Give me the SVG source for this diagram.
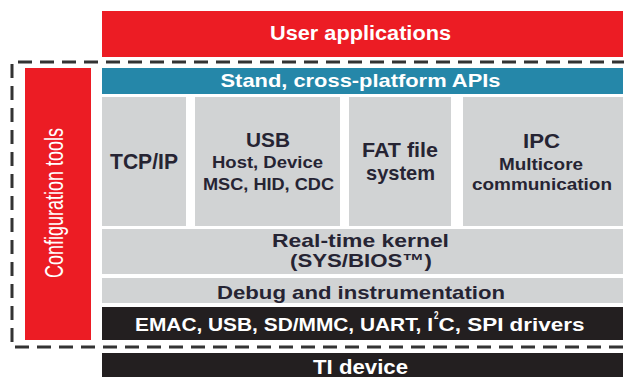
<svg xmlns="http://www.w3.org/2000/svg" width="624" height="377" viewBox="0 0 624 377">
<style>
.red{fill:#ec1c24}
.blue{fill:#2587a9}
.gray{fill:#d1d3d4}
.blk{fill:#231f20}
text{font-family:"Liberation Sans",Arial,sans-serif;font-weight:bold;text-anchor:middle}
.st{text-anchor:start}
.w{fill:#ffffff}
.d{fill:#262433}
.l{font-size:21px}
.m{font-size:19px}
.s{font-size:17px}
</style>
<rect width="624" height="377" fill="#ffffff"/>
<g id="connectors">
<path d="M 626 62 H 12 V 347 H 626" fill="none" stroke="#333333" stroke-width="3" stroke-dasharray="14 8"/>
</g>
<g id="user-applications">
<rect class="red" x="102" y="11" width="521" height="46"/>
<text class="w" x="360.5" y="40" font-size="20" textLength="181" lengthAdjust="spacingAndGlyphs">User applications</text>
</g>
<g id="configuration-tools">
<rect class="red" x="25" y="68" width="66" height="272"/>
<text class="w" transform="translate(63,203) rotate(-90)" font-size="25" style="font-weight:normal" textLength="150" lengthAdjust="spacingAndGlyphs">Configuration tools</text>
</g>
<g id="apis">
<rect class="blue" x="102" y="68" width="521" height="26"/>
<text class="w m" x="360.5" y="87" textLength="280" lengthAdjust="spacingAndGlyphs">Stand, cross-platform APIs</text>
</g>
<g id="tcpip">
<rect class="gray" x="102" y="97" width="84" height="129"/>
<text class="d" x="144" y="169" font-size="22" textLength="68" lengthAdjust="spacingAndGlyphs">TCP/IP</text>
</g>
<g id="usb">
<rect class="gray" x="195" y="97" width="145" height="129"/>
<text class="d l" x="268" y="147" textLength="44" lengthAdjust="spacingAndGlyphs">USB</text>
<text class="d s" x="267.5" y="168" textLength="111" lengthAdjust="spacingAndGlyphs">Host, Device</text>
<text class="d s" x="268.5" y="190" textLength="131" lengthAdjust="spacingAndGlyphs">MSC, HID, CDC</text>
</g>
<g id="fat">
<rect class="gray" x="349" y="97" width="102" height="129"/>
<text class="d l" x="400" y="157" textLength="76" lengthAdjust="spacingAndGlyphs">FAT file</text>
<text class="d l" x="400.5" y="180" textLength="69" lengthAdjust="spacingAndGlyphs">system</text>
</g>
<g id="ipc">
<rect class="gray" x="463" y="97" width="160" height="129"/>
<text class="d l" x="541.5" y="148" textLength="37" lengthAdjust="spacingAndGlyphs">IPC</text>
<text class="d s" x="541" y="170" textLength="84" lengthAdjust="spacingAndGlyphs">Multicore</text>
<text class="d s" x="542" y="190" textLength="140" lengthAdjust="spacingAndGlyphs">communication</text>
</g>
<g id="kernel">
<rect class="gray" x="102" y="229" width="521" height="45"/>
<text class="d m" x="360.5" y="247" textLength="177" lengthAdjust="spacingAndGlyphs">Real-time kernel</text>
<text class="d m" x="361" y="267" textLength="142" lengthAdjust="spacingAndGlyphs">(SYS/BIOS™)</text>
</g>
<g id="debug">
<rect class="gray" x="102" y="278" width="521" height="25"/>
<text class="d m" x="361" y="299" textLength="288" lengthAdjust="spacingAndGlyphs">Debug and instrumentation</text>
</g>
<g id="drivers">
<rect class="blk" x="102" y="307" width="521" height="33"/>
<text class="w m st" x="135" y="331" textLength="298" lengthAdjust="spacingAndGlyphs">EMAC, USB, SD/MMC, UART, I</text>
<text class="w st" x="434" y="319" font-size="10" textLength="4.5" lengthAdjust="spacingAndGlyphs">2</text>
<text class="w m st" x="438.5" y="331" textLength="146" lengthAdjust="spacingAndGlyphs">C, SPI drivers</text>
</g>
<g id="ti-device">
<rect class="blk" x="102" y="353" width="521" height="24"/>
<text class="w" x="360.5" y="374" font-size="20" textLength="95" lengthAdjust="spacingAndGlyphs">TI device</text>
</g>
</svg>
